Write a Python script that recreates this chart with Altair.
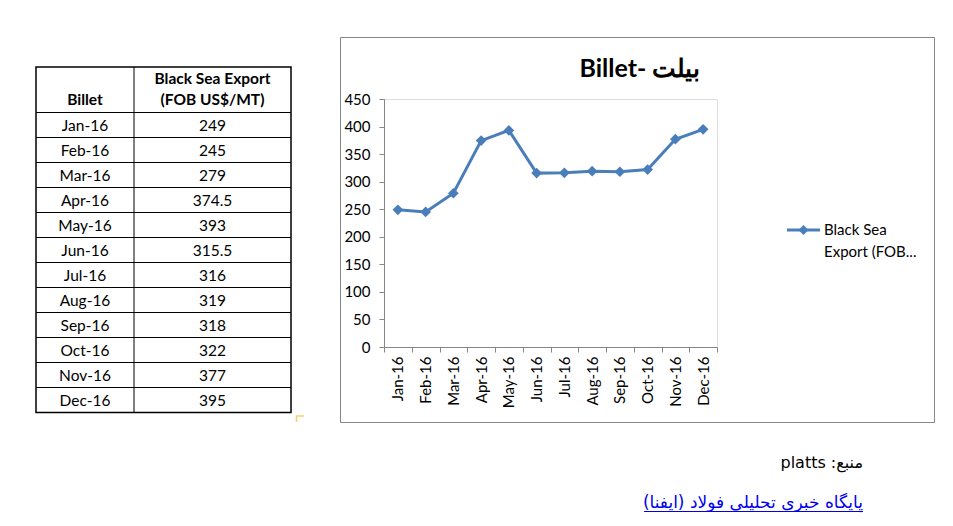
import altair as alt
import pandas as pd

# ---------------- data ----------------
months = ["Jan-16", "Feb-16", "Mar-16", "Apr-16", "May-16", "Jun-16",
          "Jul-16", "Aug-16", "Sep-16", "Oct-16", "Nov-16", "Dec-16"]
values = [249, 245, 279, 374.5, 393, 315.5, 316, 319, 318, 322, 377, 395]
series_name = "Black Sea Export (FOB US$/MT)"
table_col1 = "Billet"
table_col2 = ["Black Sea Export", "(FOB US$/MT)"]
chart_title = "Billet- بیلت"
legend_lines = ["Black Sea", "Export (FOB..."]
source_text = "platts :منبع"
link_text = "پایگاه خبری تحلیلی فولاد (ایفنا)\u200f"
y_ticks = list(range(0, 451, 50))

df = pd.DataFrame({"month": months, "value": values,
                   "label": [f"{v:g}" for v in values],
                   "series": [series_name] * len(months)})

BLUE = "#4A7EBB"
GRID = "#868686"
FONT = "Lato"
ARFONT = "DejaVu Sans"


def one(**kw):
    return pd.DataFrame({k: [v] for k, v in kw.items()} or {"k": [0]})


# ---------------- line chart ----------------
x_enc = alt.X("month:N", sort=months,
              scale=alt.Scale(type="band", paddingInner=0, paddingOuter=0),
              axis=alt.Axis(title=None, tickBand="extent", labelAngle=270,
                            tickSize=5, labelPadding=4, labelFontSize=15,
                            labelFont=FONT, labelColor="black",
                            domainColor=GRID, tickColor=GRID, grid=False))
y_enc = alt.Y("value:Q", scale=alt.Scale(domain=[0, 450], nice=False),
              axis=alt.Axis(title=None, values=y_ticks, tickSize=5,
                            labelPadding=9, labelFontSize=15, labelFont=FONT,
                            labelColor="black", gridColor=GRID,
                            domainColor=GRID, tickColor=GRID))

line = alt.Chart(df).mark_line(color=BLUE, strokeWidth=3).encode(x=x_enc, y=y_enc)
pts = alt.Chart(df).mark_point(shape="diamond", filled=True, size=115,
                               color=BLUE, opacity=1).encode(x=x_enc, y=y_enc)
plot = alt.layer(line, pts)

# frame around chart
frame = alt.Chart(one()).mark_rect(fillOpacity=0, stroke=GRID, strokeWidth=1).encode(
    x=alt.value(-43.5), x2=alt.value(550.5), y=alt.value(-61.5), y2=alt.value(323.5))

title = alt.Chart(one(t=chart_title)).mark_text(
    align="center", baseline="alphabetic", fontSize=25, fontWeight="bold",
    font=FONT, color="black").encode(x=alt.value(256), y=alt.value(-22), text="t:N")

# legend
leg_line = alt.Chart(one()).mark_rule(color=BLUE, strokeWidth=3).encode(
    x=alt.value(403), x2=alt.value(436), y=alt.value(131))
leg_pt = alt.Chart(one()).mark_point(shape="diamond", filled=True, size=100,
                                     color=BLUE, opacity=1).encode(
    x=alt.value(419.5), y=alt.value(131))
leg_t1 = alt.Chart(one(t=legend_lines[0])).mark_text(
    align="left", baseline="middle", fontSize=15, font=FONT, color="black").encode(
    x=alt.value(440), y=alt.value(131), text="t:N")
leg_t2 = alt.Chart(one(t=legend_lines[1])).mark_text(
    align="left", baseline="middle", fontSize=15, font=FONT, color="black").encode(
    x=alt.value(440), y=alt.value(153), text="t:N")

# ---------------- table ----------------
TL, TR, TD = -348, -93, -250
TT, TH, TB = -32, 13.5, 313.5


def row_y(band):
    return alt.Y("month:N", sort=months,
                 scale=alt.Scale(type="band", domain=months, range=[TH, TB],
                                 paddingInner=0, paddingOuter=0),
                 axis=None, bandPosition=band)


table_box = alt.Chart(one()).mark_rect(fillOpacity=0, stroke="black", strokeWidth=1.5).encode(
    x=alt.value(TL), x2=alt.value(TR), y=alt.value(TT), y2=alt.value(TB))
row_lines = alt.Chart(df).mark_rule(color="black", strokeWidth=1).encode(
    y=row_y(0), x=alt.value(TL), x2=alt.value(TR))
divider = alt.Chart(one()).mark_rule(color="black", strokeWidth=1).encode(
    x=alt.value(TD), y=alt.value(TT), y2=alt.value(TB))
col1_text = alt.Chart(df).mark_text(fontSize=15.5, font=FONT, color="black",
                                    baseline="middle", dy=1).encode(
    y=row_y(0.5), x=alt.value((TL + TD) / 2), text="month:N")
col2_text = alt.Chart(df).mark_text(fontSize=15.5, font=FONT, color="black",
                                    baseline="middle", dy=1).encode(
    y=row_y(0.5), x=alt.value((TD + TR) / 2), text="label:N")
h1 = alt.Chart(one(t=table_col1)).mark_text(fontSize=15.5, font=FONT, fontWeight="bold",
                                            color="black", baseline="middle").encode(
    x=alt.value((TL + TD) / 2), y=alt.value(1), text="t:N")
h2 = alt.Chart(one(t=table_col2[0])).mark_text(fontSize=15.5, font=FONT, fontWeight="bold",
                                               color="black", baseline="middle").encode(
    x=alt.value((TD + TR) / 2), y=alt.value(-20), text="t:N")
h3 = alt.Chart(one(t=table_col2[1])).mark_text(fontSize=15.5, font=FONT, fontWeight="bold",
                                               color="black", baseline="middle").encode(
    x=alt.value((TD + TR) / 2), y=alt.value(1), text="t:N")

# small yellow corner marker below the table
corner_v = alt.Chart(one()).mark_rule(color="#F2D36B", strokeWidth=1.5).encode(
    x=alt.value(-87.5), y=alt.value(317), y2=alt.value(323))
corner_h = alt.Chart(one()).mark_rule(color="#F2D36B", strokeWidth=1.5).encode(
    x=alt.value(-88), x2=alt.value(-80), y=alt.value(317))

# ---------------- bottom texts ----------------
src = alt.Chart(one(t=source_text)).mark_text(
    align="right", baseline="alphabetic", fontSize=16, font=ARFONT, color="black").encode(
    x=alt.value(479), y=alt.value(369), text="t:N")
link = alt.Chart(one(t=link_text)).mark_text(
    align="right", baseline="alphabetic", fontSize=17, font=ARFONT, color="#0000EE").encode(
    x=alt.value(479), y=alt.value(409), text="t:N")
underline = alt.Chart(one()).mark_rule(color="#0000EE", strokeWidth=1).encode(
    x=alt.value(260), x2=alt.value(479), y=alt.value(412.5))

chart = alt.layer(
    frame, table_box, row_lines, divider, col1_text, col2_text, h1, h2, h3,
    corner_v, corner_h,
    plot, title, leg_line, leg_pt, leg_t1, leg_t2, src, link, underline
).resolve_scale(x="independent", y="independent").properties(
    width=333, height=248,
    padding={"left": 384, "top": 99, "right": 236, "bottom": 179},
    autosize=alt.AutoSizeParams(type="none"),
).configure_view(stroke=None).configure(background="white")

chart.save("out.html", embed_options={"renderer": "svg", "actions": False})
